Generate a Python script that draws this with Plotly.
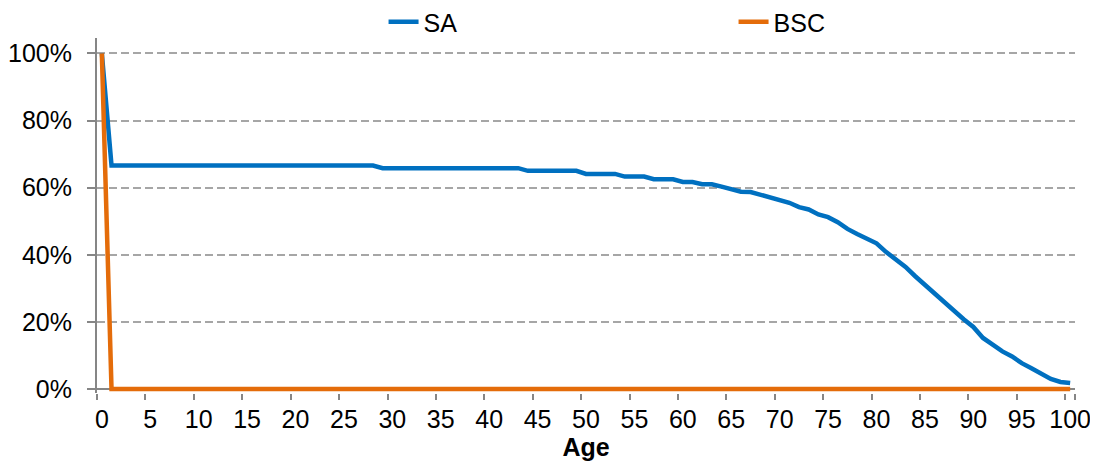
import plotly.graph_objects as go

# ages 0..100 (category axis)
ages = [str(a) for a in range(0, 101)]

# SA survival share by age
sa = [1.000] + [0.666] * 28 + [0.658] * 15 + [0.650] * 6 + [0.641] * 4 + \
     [0.633] * 3 + [0.625] * 3 + [0.617] * 2 + [0.610] * 2 + \
     [0.603, 0.595, 0.588, 0.587, 0.579, 0.572, 0.564, 0.555, 0.542, 0.535,
      0.520, 0.512, 0.497, 0.477, 0.462, 0.448, 0.434, 0.408, 0.386, 0.364,
      0.336, 0.310, 0.288, 0.260, 0.232, 0.208, 0.185, 0.152, 0.132, 0.112,
      0.097, 0.077, 0.062, 0.047, 0.030, 0.021, 0.018]

# BSC
bsc = [1.0] + [0.0] * 100

x_tickvals = [str(a) for a in range(0, 101, 5)]
y_tickvals = [0, 0.2, 0.4, 0.6, 0.8, 1.0]

blue = '#0070C0'
orange = '#E46C0A'
font = 'Liberation Sans, Arial, sans-serif'
fsize = 25

fig = go.Figure()
fig.add_trace(go.Scatter(x=ages, y=sa, name='SA', mode='lines',
                         line=dict(color=blue, width=4.5)))
fig.add_trace(go.Scatter(x=ages, y=bsc, name='BSC', mode='lines',
                         line=dict(color=orange, width=4.5)))

fig.update_xaxes(
    type='category', range=[-0.5, 100.5],
    tickmode='array', tickvals=x_tickvals, ticktext=x_tickvals,
    tickson='boundaries', tickangle=0, automargin=False,
    ticks='outside', ticklen=6, tickwidth=1.5, tickcolor='#868686',
    showline=False, showgrid=False,
    tickfont=dict(size=fsize, color='black', family=font),
    ticklabelstandoff=9,
    title=dict(text='<b>Age</b>', font=dict(size=fsize, color='black', family=font), standoff=6),
)
fig.update_yaxes(
    range=[-0.012, 1.046], automargin=False,
    tickmode='array', tickvals=y_tickvals, tickformat='.0%',
    ticks='outside', ticklen=8, tickwidth=1.5, tickcolor='#868686',
    showline=True, linecolor='#868686', linewidth=2,
    showgrid=True, gridcolor='#A6A6A6', gridwidth=1.5, griddash='8px,4px',
    zeroline=True, zerolinecolor='#868686', zerolinewidth=1.5,
    tickfont=dict(size=fsize, color='black', family=font),
    ticklabelstandoff=10,
)

# page body adds an 8px offset, so the figure is a bit smaller
fig.update_layout(
    width=1090, height=458,
    margin=dict(l=89, r=23, t=30, b=73, autoexpand=False),
    paper_bgcolor='white', plot_bgcolor='white',
    font=dict(family=font, size=fsize, color='black'),
    showlegend=True,
    legend=dict(orientation='h', x=0.293, y=1.045, xanchor='left', yanchor='middle',
                entrywidth=305, entrywidthmode='pixels',
                font=dict(size=fsize, color='black', family=font),
                bgcolor='rgba(0,0,0,0)'),
)

fig.write_html("out.html")
